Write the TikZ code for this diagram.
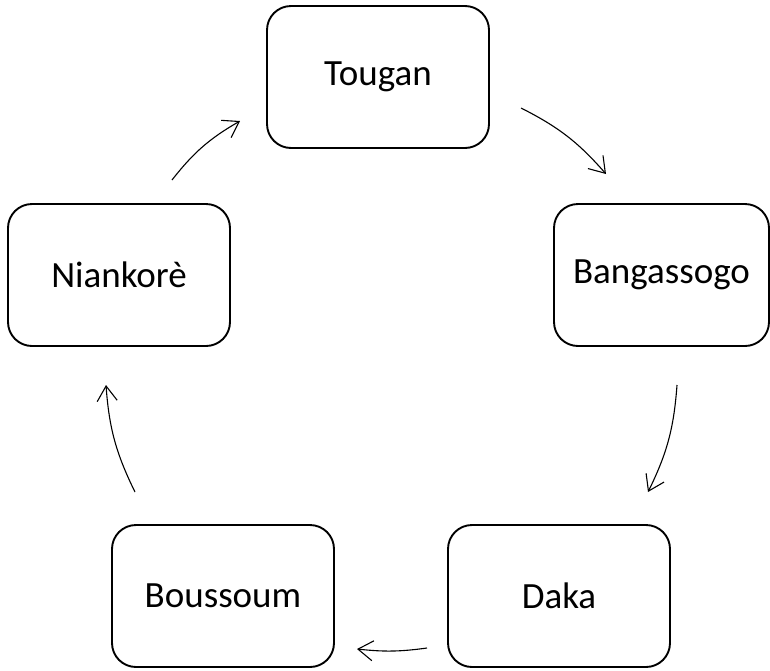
\documentclass[tikz,border=0pt]{standalone}
\usepackage{fontspec}
\setmainfont{Carlito}
\usetikzlibrary{arrows.meta}

\begin{document}
\begin{tikzpicture}[x=1pt,y=-1pt,font=\fontsize{37}{44}\selectfont,
  town/.style={draw=black,line width=1.9pt,rounded corners=24pt,minimum width=222pt,minimum height=142pt,inner sep=0pt,align=center},
  cyc/.style={-{Straight Barb[length=15pt,width=20pt]},line width=1.1pt}]
\useasboundingbox (0,0) rectangle (770,670);
\node[town] (tg) at (378,77) {Tougan};
\node[town,minimum width=215pt] (bg) at (661.5,275) {Bangassogo};
\node[town] (dk) at (559,596) {Daka};
\node[town] (bs) at (223,596) {Boussoum};
\node[town] (nk) at (119,275) {Niankorè};
% arrow ends round the cycle
\coordinate (tg-out) at (521,108); \coordinate (bg-in) at (606,174);
\coordinate (bg-out) at (677,385); \coordinate (dk-in) at (648,492);
\coordinate (dk-out) at (427,648); \coordinate (bs-in) at (357,649);
\coordinate (bs-out) at (135,492); \coordinate (nk-in) at (106,385);
\coordinate (nk-out) at (172,180); \coordinate (tg-in) at (240,121);
\draw[cyc] (tg-out) to[bend left=11] (bg-in);
\draw[cyc] (bg-out) to[bend left=11] (dk-in);
\draw[cyc] (dk-out) to[bend left=7] (bs-in);
\draw[cyc] (bs-out) to[bend left=11] (nk-in);
\draw[cyc] (nk-out) to[bend left=11] (tg-in);
\end{tikzpicture}
\end{document}
